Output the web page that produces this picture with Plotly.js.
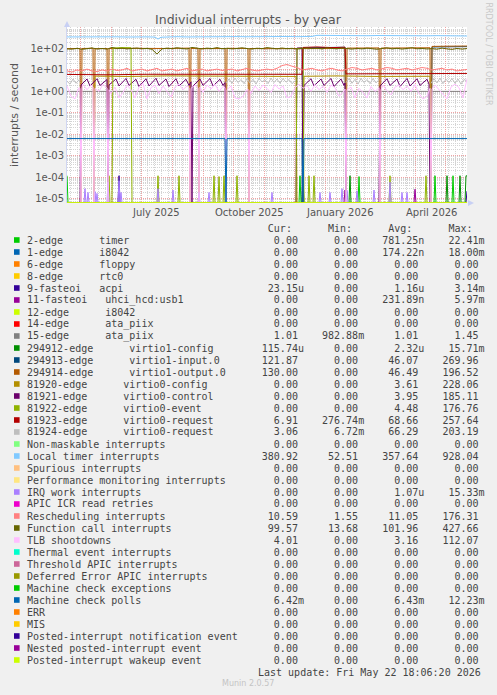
<!DOCTYPE html>
<html>
<head>
<meta charset="utf-8">
<script src="https://cdn.plot.ly/plotly-3.0.1.min.js"></script>
<style>
html,body{margin:0;padding:0;background:#f0f0f0;overflow:hidden;}
#chart{width:497px;height:695px;}
</style>
</head>
<body>
<div id="chart"></div>
<script>
// ================= DATA =================
// time axis: day offsets from 2025-04-17 18:06 UTC (end = day 400 = 2026-05-22 18:06)
const xLabelDays = [89, 182, 273, 364];
const xLabelText = ['July 2025', 'October 2025', 'January 2026', 'April 2026'];
const yTickVals = [1e-5, 1e-4, 1e-3, 1e-2, 1e-1, 1, 10, 100];
const yTickText = ['1e-05', '1e-04', '1e-03', '1e-02', '1e-01', '1e+00', '1e+01', '1e+02'];

const legendLabels = [
  '2-edge      timer', '1-edge      i8042', '6-edge      floppy', '8-edge      rtc0',
  '9-fasteoi   acpi', '11-fasteoi   uhci_hcd:usb1', '12-edge      i8042', '14-edge      ata_piix',
  '15-edge      ata_piix', '294912-edge      virtio1-config', '294913-edge      virtio1-input.0',
  '294914-edge      virtio1-output.0', '81920-edge      virtio0-config', '81921-edge      virtio0-control',
  '81922-edge      virtio0-event', '81923-edge      virtio0-request', '81924-edge      virtio0-request',
  'Non-maskable interrupts', 'Local timer interrupts', 'Spurious interrupts',
  'Performance monitoring interrupts', 'IRQ work interrupts', 'APIC ICR read retries',
  'Rescheduling interrupts', 'Function call interrupts', 'TLB shootdowns', 'Thermal event interrupts',
  'Threshold APIC interrupts', 'Deferred Error APIC interrupts', 'Machine check exceptions',
  'Machine check polls', 'ERR', 'MIS', 'Posted-interrupt notification event',
  'Nested posted-interrupt event', 'Posted-interrupt wakeup event'
];
const legendColors = [
  '#00cc00','#0066b3','#ff8000','#ffcc00','#330099','#990099','#ccff00','#ff0000','#808080',
  '#008f00','#00487d','#b35a00','#b38f00','#6b006b','#8fb300','#b30000','#bebebe','#80ff80',
  '#80c9ff','#ffc080','#ffe680','#aa80ff','#ee00cc','#ff8080','#666600','#ffbfff','#00ffcc',
  '#cc6699','#999900','#00cc00','#0066b3','#ff8000','#ffcc00','#330099','#990099','#ccff00'
];
const curVals = ['0.00','0.00','0.00','0.00','23.15u','0.00','0.00','0.00','1.01','115.74u','121.87','130.00','0.00','0.00','0.00','6.91','3.06','0.00','380.92','0.00','0.00','0.00','0.00','10.59','99.57','4.01','0.00','0.00','0.00','0.00','6.42m','0.00','0.00','0.00','0.00','0.00'];
const minVals = ['0.00','0.00','0.00','0.00','0.00','0.00','0.00','0.00','982.88m','0.00','0.00','0.00','0.00','0.00','0.00','276.74m','6.72m','0.00','52.51','0.00','0.00','0.00','0.00','1.55','13.68','0.00','0.00','0.00','0.00','0.00','0.00','0.00','0.00','0.00','0.00','0.00'];
const avgVals = ['781.25n','174.22n','0.00','0.00','1.16u','231.89n','0.00','0.00','1.01','2.32u','46.07','46.49','3.61','3.95','4.48','68.66','66.29','0.00','357.64','0.00','0.00','1.07u','0.00','11.05','101.96','3.16','0.00','0.00','0.00','0.00','6.43m','0.00','0.00','0.00','0.00','0.00'];
const maxVals = ['22.41m','18.00m','0.00','0.00','3.14m','5.97m','0.00','0.00','1.45','15.71m','269.96','196.52','228.06','185.11','176.76','257.64','203.19','0.00','928.04','0.00','0.00','15.33m','0.00','176.31','427.66','112.07','0.00','0.00','0.00','0.00','12.23m','0.00','0.00','0.00','0.00','0.00'];

// series (day offset, value); 0 = zero rate (drawn at graph floor)
const zeroDays = [0, 400];
const zeroVals = [0, 0];

const timerDays = [0,1,232,233,234,291,292,293,367,368,369,385,386,387,400];
const timerVals = [1.2e-4,0,0,1.2e-4,0,0,1.1e-4,0,0,1.2e-4,0,0,1.2e-4,0,0];

const acpiDays = [0,51,52,53,399,400];
const acpiVals = [0,0,1.2e-4,0,0,2.3e-5];

const usbDays = [0,277,278,279,347,348,349,400];
const usbVals = [0,0,2.6e-5,0,0,2.8e-5,0,0];

const ataDays = [0,100,200,300,400];
const ataVals = [1.01,1.0,1.01,1.0,1.01];

const v1cfgDays = [0,235,236,237,282,283,284,379,380,381,392,393,394,398,399,400];
const v1cfgVals = [0,0,1.2e-4,0,0,1.2e-4,0,0,1.2e-4,0,0,1.2e-4,0,0,1.2e-4,1.157e-4];

const v1inDays = [0,235,236,250,265,278,279,364,365,380,400];
const v1inVals = [0,0,108,112,110,114,0,0,118,122,121.87];

const v1outDays = [0,13,14,15,26,27,28,40,41,42,60,80,100,122,123,124,131,132,133,158,159,160,181,182,183,200,230,250,278,279,280,312,313,314,340,363,364,365,380,400];
const v1outVals = [98,100,0,100,102,0,98,100,0,100,102,98,100,104,0,100,102,0,98,100,0,102,100,0,100,98,100,102,100,0,104,106,0,104,106,108,0,125,128,130];

const v0cfgDays = [0,27,28,60,100,140,180,229,230,236,237,270,310,350,363,364,400];
const v0cfgVals = [0,0,5.2,5.0,5.3,5.1,5.2,5.0,0,0,5.1,5.3,5.0,5.2,5.1,0,0];

const v0ctlDays = [0,13,14,20,23,30,33,40,41,42,49,52,59,62,69,72,79,82,89,92,99,102,109,112,119,122,124,125,126,133,136,143,146,153,156,158,159,229,230,235,236,237,244,247,254,257,264,267,274,277,278,279,312,313,320,323,330,333,340,343,350,353,360,362,363,400];
const v0ctlVals = [0,0,2.0,3.8,1.8,3.9,1.9,3.6,0,2.0,3.8,1.8,4.0,1.9,3.7,1.7,3.9,1.8,4.1,1.9,3.8,1.7,3.9,1.8,3.7,1.9,2.8,0,1.8,3.8,1.9,4.0,1.8,3.7,1.9,2.6,0,0,105,108,0,1.9,3.9,1.8,3.8,1.9,4.0,1.7,3.8,1.9,2.5,0,0,1.8,3.9,1.9,3.8,1.7,4.0,1.8,3.9,1.9,3.7,2.2,0,0];

const v0evtDays = [0,41,42,43,45,46,55,64,65,90,91,92,111,112,113,146,147,148,151,152,153,156,157,158,169,170,171,229,230,236,237,241,242,243,246,247,248,322,323,324,358,359,360,400];
const v0evtVals = [0,0,1.2e-4,0,0,105,110,108,0,0,1.2e-4,0,0,1.2e-4,0,0,1.2e-4,0,0,1.1e-4,0,0,1.2e-4,0,0,1.2e-4,0,0,100,104,0,0,1.2e-4,0,0,1.2e-4,0,0,1.2e-4,0,0,1.2e-4,0,0];

const v0req1Days = [0,40,80,120,160,200,235,236,250,265,278,279,320,360,400];
const v0req1Vals = [6.2,6.0,6.3,6.2,6.3,6.2,6.3,112,118,110,115,6.6,6.8,6.7,6.9];

const v0req2Days = [0,3,6,9,12,13,14,159,162,165,168,171,174,177,180,183,186,189,192,195,198,201,204,207,210,213,216,219,222,225,229,230,279,282,285,288,291,294,297,300,303,306,309,312,313,364,367,370,373,376,379,382,385,388,391,394,397,400];
const v0req2Vals = [3.0,2.2,3.8,2.4,3.5,2.6,null,2.5,3.8,2.4,4.2,2.6,3.6,2.3,4.0,2.5,3.7,2.2,4.1,2.8,3.5,2.3,4.2,2.6,3.8,2.4,4.0,2.7,3.6,2.3,3.4,null,2.6,4.0,2.4,3.7,2.2,4.1,2.6,3.6,2.3,4.0,2.5,3.5,null,2.4,3.9,2.5,4.2,2.3,3.7,2.6,4.0,2.4,3.8,2.2,3.6,3.06];

const locDays = [0,10,20,30,40,50,60,70,80,88,91,94,100,110,120,130,140,150,160,170,180,190,200,210,220,230,240,245,250,260,270,280,290,300,310,320,330,340,350,360,370,380,390,400];
const locVals = [345,350,340,355,345,350,342,355,348,340,275,335,350,355,345,352,348,355,350,358,352,360,355,350,362,355,360,365,410,400,395,405,398,392,402,395,390,400,394,388,396,400,392,380.92];

const irqDays = [0,17,18,19,20,21,22,27,28,29,30,31,40,41,42,51,52,53,54,55,90,91,92,105,106,107,131,132,133,141,142,143,204,205,206,252,253,254,262,263,264,274,275,276,279,280,281,289,290,291,306,307,308,322,323,324,334,335,336,339,340,341,400];
const irqVals = [0,0,3e-5,0,0,2e-5,0,0,2.2e-5,0,1.8e-5,0,0,6e-5,0,0,7e-5,0,2e-5,0,0,3e-5,0,0,2.6e-5,0,0,2e-5,0,0,2e-5,0,0,2e-5,0,0,2e-5,0,0,2e-5,0,0,3e-5,0,0,2.5e-5,0,0,2.4e-5,0,0,2.6e-5,0,0,6e-5,0,0,2e-5,0,0,2e-5,0,0];

const days5 = [0,5,10,15,20,25,30,35,40,45,50,55,60,65,70,75,80,85,90,95,100,105,110,115,120,125,130,135,140,145,150,155,160,165,170,175,180,185,190,195,200,205,210,215,220,225,230,235,240,245,250,255,260,265,270,275,280,285,290,295,300,305,310,315,320,325,330,335,340,345,350,355,360,365,370,375,380,385,390,395,400];
const reschedVals = [9,8,10,9,11,9,8.5,10,9,11,9.5,10,12,9,10,11,9,10,12,9,10,11,9,10,12,9,10,11,9,10,11,9.5,10,11,9,10,12,10,9,10,11,10,12,16,18,15,13,10,11,12,10,9,11,12,10,9,11,13,12,10,11,12,10,11,13,12,10,11,12,10,11,13,12,10,11,12,10,11,9,10,10.6];
const funcVals = [96,94,102,92,98,106,95,100,93,112,98,103,96,101,105,97,101,92,55,96,104,98,108,100,95,112,100,96,104,99,110,97,102,96,100,108,99,95,103,98,110,100,96,105,98,102,95,100,106,99,103,96,108,100,97,105,99,94,101,96,104,98,92,100,107,96,102,94,100,108,97,101,95,99,93,104,96,91,100,94,99.57];

const tlbDays = [0,4,8,12,13,14,15,16,20,24,26,27,28,32,36,40,41,42,44,48,52,56,60,64,68,72,76,80,84,88,92,96,100,104,108,112,116,120,122,123,124,128,131,132,133,136,140,144,148,152,156,158,159,160,164,168,172,176,180,181,182,183,184,188,192,196,200,204,208,212,216,220,224,228,232,236,240,244,248,252,256,260,264,268,272,276,278,279,280,284,288,292,296,300,304,308,312,313,314,316,320,324,328,332,336,340,344,348,352,356,360,363,364,365,368,372,376,380,384,388,392,396,400];
const tlbVals = [1.8,0.6,0.45,1.5,1.4,0,1.5,2.2,1.2,2.0,1.6,0,1.4,1.0,2.2,1.4,0,1.2,0.8,1.6,0.5,0.9,2.0,1.2,0.5,1.6,2.4,0.45,1.5,2.0,0.8,1.8,1.0,0.55,1.6,2.2,1.2,1.8,1.5,0,1.4,2.0,1.4,0,1.6,0.9,2.0,1.3,2.2,1.0,1.7,1.5,0,1.2,1.8,0.5,0.45,0.6,1.2,1.3,0,1.1,0.8,1.8,1.1,2.0,1.4,0.9,2.1,1.3,1.8,0.5,0.6,1.5,2.2,1.4,1.9,1.0,2.1,1.2,1.8,0.9,2.0,1.5,0.6,0.9,1.3,0,1.2,1.6,0.5,1.4,0.9,0.5,1.7,1.0,1.5,0,1.2,2.0,1.1,0.7,1.6,2.0,1.2,1.8,1.0,2.1,0.8,0.45,0.6,1.4,0,1.3,2.0,1.2,0.8,0.45,1.6,2.2,1.5,0.5,4.0];

const mcpDays = [0,158,159,160,235,236,237,400];
const mcpVals = [6.43e-3,6.43e-3,0,6.43e-3,6.43e-3,0,6.43e-3,6.42e-3];

// series index (legend order) -> [days, values]
const seriesData = [
  [timerDays,timerVals],[zeroDays,zeroVals],[zeroDays,zeroVals],[zeroDays,zeroVals],
  [acpiDays,acpiVals],[usbDays,usbVals],[zeroDays,zeroVals],[zeroDays,zeroVals],
  [ataDays,ataVals],[v1cfgDays,v1cfgVals],[v1inDays,v1inVals],[v1outDays,v1outVals],
  [v0cfgDays,v0cfgVals],[v0ctlDays,v0ctlVals],[v0evtDays,v0evtVals],[v0req1Days,v0req1Vals],
  [v0req2Days,v0req2Vals],[zeroDays,zeroVals],[locDays,locVals],[zeroDays,zeroVals],
  [zeroDays,zeroVals],[irqDays,irqVals],[zeroDays,zeroVals],[days5,reschedVals],
  [days5,funcVals],[tlbDays,tlbVals],[zeroDays,zeroVals],[zeroDays,zeroVals],
  [zeroDays,zeroVals],[zeroDays,zeroVals],[mcpDays,mcpVals],[zeroDays,zeroVals],
  [zeroDays,zeroVals],[zeroDays,zeroVals],[zeroDays,zeroVals],[zeroDays,zeroVals]
];

// ================= RENDER =================
const START_MS = Date.UTC(2025, 3, 17, 18, 6);
const DAY_MS = 86400000;
const Y_MIN_LOG = -5.19, Y_MAX_LOG = 3;
const FLOOR = Math.pow(10, -5.17); // zero rates sit on the graph floor, as rrdtool does
function fmt(ms) {
  const d = new Date(ms), p = n => String(n).padStart(2, '0');
  return d.getUTCFullYear() + '-' + p(d.getUTCMonth() + 1) + '-' + p(d.getUTCDate()) + ' ' + p(d.getUTCHours()) + ':' + p(d.getUTCMinutes());
}
const dayToDate = d => fmt(START_MS + d * DAY_MS);
const toY = v => (v === null ? null : (v <= 0 ? FLOOR : v));

// plot box in page pixels
const L = 67, R = 467, T = 27, B = 203;
const PX = x => (x - L) / (R - L);
const PY = y => (B - y) / (B - T);

const traces = seriesData.map((s, i) => ({
  type: 'scatter', mode: 'lines',
  x: s[0].map(dayToDate), y: s[1].map(toY),
  line: { color: legendColors[i], width: 1 },
  connectgaps: false, hoverinfo: 'skip', showlegend: false, name: legendLabels[i]
}));

const NB = s => s.replace(/ /g, '\u00a0');
function field(v) {
  const m = v.match(/^([0-9.]+)([a-zA-Z]?)$/);
  return m[1].padStart(9, ' ') + (m[2] || ' ');
}
const mono = { family: 'DejaVu Sans Mono', size: 10, color: '#444' };
const annotations = [];
const shapes = [];

const header = ''.padEnd(36, ' ') + ['Cur:', 'Min:', 'Avg:', 'Max:'].map(h => h.padStart(8, ' ').padEnd(10, ' ')).join('');
annotations.push({ xref: 'paper', yref: 'paper', x: PX(25), y: PY(228), xanchor: 'left', yanchor: 'middle', showarrow: false, text: NB(header), font: mono });

legendLabels.forEach((lab, i) => {
  const yy = 240 + 12 * i;
  const row = lab.padEnd(36, ' ') + field(curVals[i]) + field(minVals[i]) + field(avgVals[i]) + field(maxVals[i]);
  annotations.push({ xref: 'paper', yref: 'paper', x: PX(25), y: PY(yy), xanchor: 'left', yanchor: 'middle', showarrow: false, text: NB(row), font: mono });
  shapes.push({ type: 'rect', xref: 'paper', yref: 'paper', x0: PX(14), x1: PX(19.6), y0: PY(yy + 2.8), y1: PY(yy - 2.8), fillcolor: legendColors[i], line: { width: 0 } });
});

annotations.push({ xref: 'paper', yref: 'paper', x: PX(483), y: PY(672), xanchor: 'right', yanchor: 'middle', showarrow: false, text: NB('Last update: Fri May 22 18:06:20 2026'), font: mono });
annotations.push({ xref: 'paper', yref: 'paper', x: PX(248), y: PY(683.5), xanchor: 'center', yanchor: 'middle', showarrow: false, text: 'Munin 2.0.57', font: { family: 'DejaVu Sans', size: 8, color: '#c4c4c4' } });
annotations.push({ xref: 'paper', yref: 'paper', x: PX(488.5), y: PY(54), xanchor: 'center', yanchor: 'middle', showarrow: false, textangle: 90, text: 'RRDTOOL / TOBI OETIKER', font: { family: 'DejaVu Sans', size: 8, color: '#c8c8c8' } });

xLabelDays.forEach((d, i) => {
  annotations.push({ xref: 'x', yref: 'paper', x: dayToDate(d), y: PY(212.5), xanchor: 'center', yanchor: 'middle', showarrow: false, text: xLabelText[i], font: { family: 'DejaVu Sans', size: 10, color: '#555' } });
});

// axis arrows
shapes.push({ type: 'path', xref: 'paper', yref: 'paper', path: `M ${PX(64)},${PY(27)} L ${PX(67)},${PY(21)} L ${PX(70)},${PY(27)} Z`, fillcolor: '#c8d0f4', line: { width: 0 } });
shapes.push({ type: 'path', xref: 'paper', yref: 'paper', path: `M ${PX(468)},${PY(200)} L ${PX(474)},${PY(203)} L ${PX(468)},${PY(206)} Z`, fillcolor: '#c8d0f4', line: { width: 0 } });

const layout = {
  width: 497, height: 695,
  margin: { l: L, r: 497 - R, t: T, b: 695 - B, pad: 0 },
  paper_bgcolor: '#f0f0f0', plot_bgcolor: '#ffffff',
  font: { family: 'DejaVu Sans', size: 10, color: '#555' },
  title: { text: 'Individual interrupts - by year', font: { family: 'DejaVu Sans', size: 12.5, color: '#555' }, x: 248 / 497, xanchor: 'center', xref: 'container', y: 1 - 19.5 / 695, yanchor: 'middle', yref: 'container' },
  xaxis: {
    type: 'date', range: [dayToDate(0), dayToDate(400)], fixedrange: true,
    tickmode: 'linear', tick0: '2025-05-01', dtick: 'M1', showticklabels: false, ticks: '',
    showgrid: true, gridcolor: '#f0a4a4', griddash: '1px,1px', gridwidth: 1,
    minor: { dtick: 7 * DAY_MS, tick0: '2025-04-21', showgrid: true, gridcolor: '#d4d4d4', griddash: '1px,1px', gridwidth: 1, ticks: '' },
    showline: false, zeroline: false
  },
  yaxis: {
    type: 'log', range: [Y_MIN_LOG, Y_MAX_LOG], fixedrange: true,
    tickmode: 'array', tickvals: yTickVals, ticktext: yTickText, ticks: '',
    tickfont: { family: 'DejaVu Sans', size: 10, color: '#555' },
    showgrid: true, gridcolor: '#f0a4a4', griddash: '1px,1px', gridwidth: 1,
    minor: { dtick: 'D1', showgrid: true, gridcolor: '#d4d4d4', griddash: '1px,1px', gridwidth: 1, ticks: '' },
    showline: true, linecolor: '#d0d6f2', linewidth: 1, zeroline: false,
    title: { text: 'interrupts / second', font: { family: 'DejaVu Sans', size: 11, color: '#555' }, standoff: 9 }
  },
  annotations: annotations,
  shapes: shapes,
  showlegend: false
};

Plotly.newPlot('chart', traces, layout, { staticPlot: true, displayModeBar: false });
</script>
</body>
</html>
